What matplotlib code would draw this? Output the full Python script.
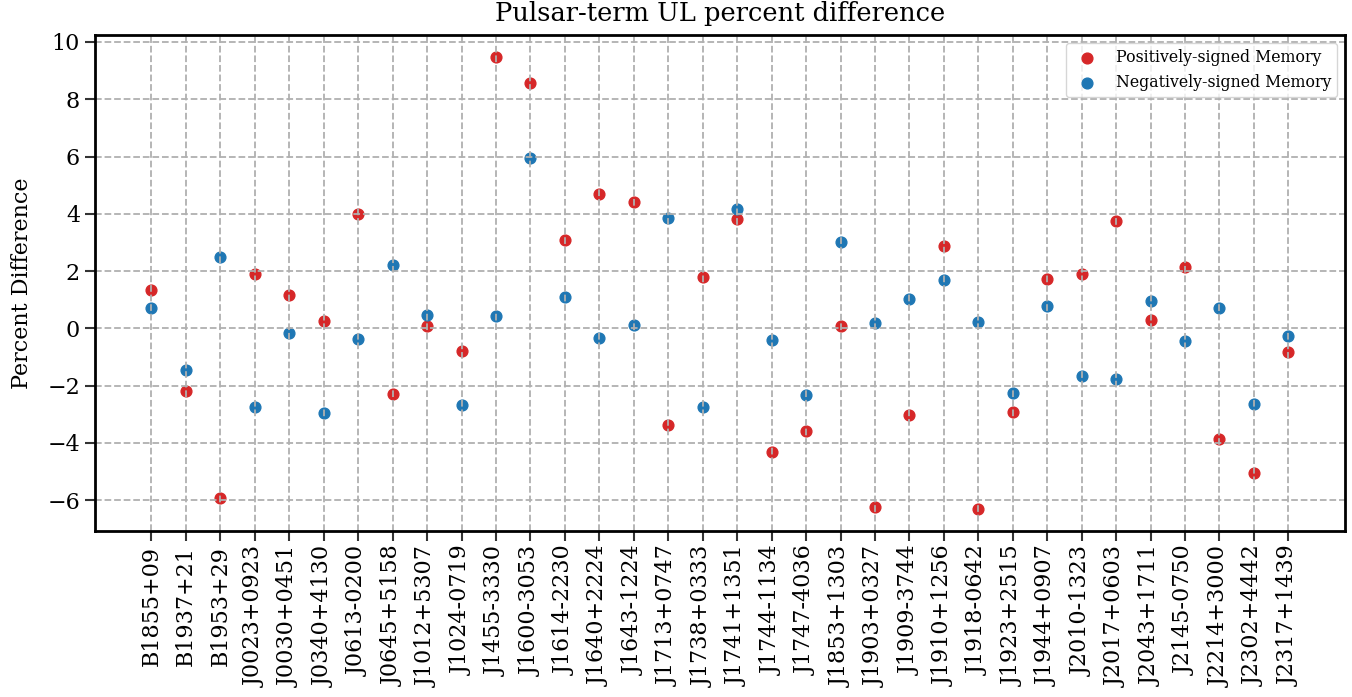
import matplotlib
matplotlib.use("Agg")
import matplotlib.pyplot as plt
import numpy as np

pulsars = [
    "B1855+09", "B1937+21", "B1953+29", "J0023+0923", "J0030+0451",
    "J0340+4130", "J0613-0200", "J0645+5158", "J1012+5307", "J1024-0719",
    "J1455-3330", "J1600-3053", "J1614-2230", "J1640+2224", "J1643-1224",
    "J1713+0747", "J1738+0333", "J1741+1351", "J1744-1134", "J1747-4036",
    "J1853+1303", "J1903+0327", "J1909-3744", "J1910+1256", "J1918-0642",
    "J1923+2515", "J1944+0907", "J2010-1323", "J2017+0603", "J2043+1711",
    "J2145-0750", "J2214+3000", "J2302+4442", "J2317+1439",
]

# percent difference, positively-signed memory
pos_diff = [
    1.33, -2.19, -5.91, 1.90, 1.17,
    0.26, 3.98, -2.28, 0.07, -0.79,
    9.46, 8.57, 3.10, 4.70, 4.40,
    -3.37, 1.79, 3.83, -4.31, -3.58,
    0.07, -6.23, -3.03, 2.87, -6.29,
    -2.91, 1.73, 1.90, 3.75, 0.29,
    2.15, -3.85, -5.05, -0.83,
]

# percent difference, negatively-signed memory
neg_diff = [
    0.71, -1.45, 2.49, -2.74, -0.16,
    -2.97, -0.38, 2.21, 0.47, -2.66,
    0.44, 5.96, 1.08, -0.32, 0.11,
    3.87, -2.76, 4.18, -0.41, -2.34,
    3.02, 0.19, 1.02, 1.69, 0.22,
    -2.24, 0.77, -1.67, -1.75, 0.94,
    -0.43, 0.71, -2.63, -0.28,
]

plt.rcParams["font.family"] = "DejaVu Serif"

fig, ax = plt.subplots(figsize=(13.52, 6.97), dpi=100)
fig.subplots_adjust(left=0.070, right=0.995, top=0.950, bottom=0.238)

x = np.arange(len(pulsars))
ax.scatter(x, pos_diff, s=60, color="#d62728", label="Positively-signed Memory")
ax.scatter(x, neg_diff, s=60, color="#1f77b4", label="Negatively-signed Memory")

ax.set_xticks(x)
ax.set_xticklabels(pulsars, rotation=90, fontsize=16)
ax.tick_params(axis="y", labelsize=16)
ax.tick_params(axis="both", direction="out", length=7, width=1.5, color="#333333")

ax.grid(True, linestyle="--", color="#b0b0b0", linewidth=1.3)
for spine in ax.spines.values():
    spine.set_linewidth(2)
    spine.set_color("black")

ax.set_title("Pulsar-term UL percent difference", fontsize=18.5, pad=10)
ax.set_ylabel("Percent Difference", fontsize=16, labelpad=10)
ax.legend(loc="upper right", fontsize=11.3)

fig.savefig("out.png", dpi=100)
